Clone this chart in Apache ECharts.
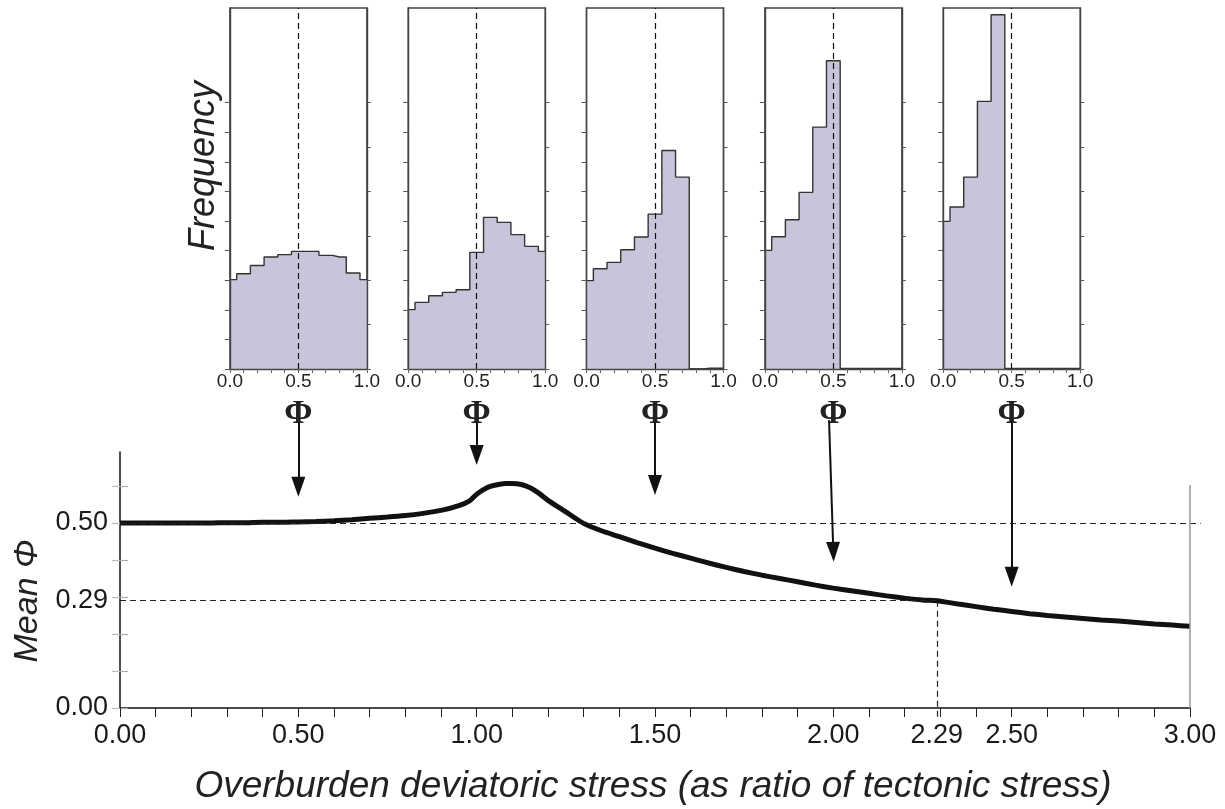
<!DOCTYPE html>
<html>
<head>
<meta charset="utf-8">
<script src="https://cdn.jsdelivr.net/npm/echarts@6/dist/echarts.min.js"></script>
<style>
  html, body { margin: 0; padding: 0; background: #ffffff; }
  #chart { width: 1225px; height: 809px; }
</style>
</head>
<body>
<div id="chart"></div>
<script>
// ---- Mean Φ against overburden deviatoric stress ----
const stress = [
  0.00, 0.05, 0.10, 0.15, 0.20, 0.25, 0.30, 0.35, 0.40, 0.45,
  0.50, 0.55, 0.60, 0.65, 0.70, 0.75, 0.80, 0.85, 0.90, 0.95,
  0.98, 1.00, 1.03, 1.05, 1.08, 1.10, 1.125, 1.15, 1.175, 1.20,
  1.25, 1.30, 1.35, 1.40, 1.45, 1.50, 1.55, 1.60, 1.65, 1.70,
  1.75, 1.80, 1.85, 1.90, 1.95, 2.00, 2.05, 2.10, 2.15, 2.20,
  2.25, 2.29, 2.35, 2.40, 2.45, 2.50, 2.55, 2.60, 2.65, 2.70,
  2.75, 2.80, 2.85, 2.90, 2.95, 3.00
];
const meanPhi = [
  0.500, 0.500, 0.500, 0.500, 0.500, 0.500, 0.501, 0.501, 0.502, 0.502,
  0.503, 0.504, 0.506, 0.509, 0.513, 0.516, 0.520, 0.526, 0.534, 0.547,
  0.560, 0.578, 0.596, 0.602, 0.607, 0.607, 0.604, 0.595, 0.580, 0.561,
  0.530, 0.499, 0.479, 0.463, 0.447, 0.432, 0.418, 0.405, 0.392, 0.380,
  0.369, 0.359, 0.350, 0.341, 0.332, 0.324, 0.317, 0.310, 0.303, 0.297,
  0.292, 0.290, 0.281, 0.274, 0.267, 0.261, 0.255, 0.250, 0.246, 0.242,
  0.238, 0.235, 0.231, 0.227, 0.224, 0.221
];
const stressTickLabels = [0.00, 0.50, 1.00, 1.50, 2.00, 2.29, 2.50, 3.00];
const meanPhiTickLabels = [0.00, 0.29, 0.50];
const meanPhiMinorTicks = [0.0, 0.1, 0.2, 0.3, 0.4, 0.5, 0.6];
const crossStress = 2.29;
const crossPhi = 0.29;
const neutralPhi = 0.50;

// ---- Φ frequency histograms at five stress ratios ----
const histStress = [0.5, 1.0, 1.5, 2.0, 2.5];
const phiBins = [0.0, 0.1, 0.2, 0.3, 0.4, 0.5, 0.6, 0.7, 0.8, 0.9, 1.0];
const freqAt050 = [6.04, 6.44, 7.00, 7.57, 7.73, 7.95, 7.95, 7.68, 7.57, 6.49, 6.04];
const freqAt100 = [4.01, 4.50, 4.95, 5.18, 5.36, 7.88, 10.25, 9.91, 9.08, 8.29, 7.95];
const freqAt150 = [5.97, 6.78, 7.21, 8.06, 8.92, 10.47, 14.77, 12.97, 0.00, 0.05, 0.05];
const freqAt200 = [8.02, 8.94, 10.09, 11.94, 16.35, 20.83, 0.04, 0.04, 0.04, 0.04, 0.04];
const freqAt250 = [9.98, 10.95, 12.97, 18.09, 23.94, 0.03, 0.03, 0.03, 0.03, 0.03, 0.03];
const histFreqs = [freqAt050, freqAt100, freqAt150, freqAt200, freqAt250];
const phiTickLabels = [0.0, 0.5, 1.0];
const freqTicksLeft = [0, 2, 4, 6, 8, 10, 12, 14, 16, 18];
const freqTicksRight = [0, 3, 6, 9, 12, 15, 18];

// ---- layout ----
const FONT = '"Liberation Sans", Arial, Helvetica, sans-serif';
const plotLeft = 120, plotRight = 1190, plotZeroY = 708;
const pxPerStress = (plotRight - plotLeft) / 3;
const pxPerPhi = 370;
const plotTop = 452;
const phiTop = (plotZeroY - plotTop) / pxPerPhi;
// overlay for arrows and reference lines, on the same scales as the plot
const overXMax = 3.05, overMin = -0.05, overMax = 0.9;
const arrowStart = 0.778;
const arrowTips = [0.571, 0.657, 0.576, 0.395, 0.328];
const arrowTopShift = [0, 0, 0, -0.012, 0];
const headLen = 20;

const histTop = 8, histHeight = 361, histWidth = 137;
const freqMax = 24.4;

const chart = echarts.init(document.getElementById('chart'), null, { renderer: 'canvas' });

const grids = [
  { left: plotLeft, width: plotRight - plotLeft, top: plotTop, height: plotZeroY - plotTop },
  { left: plotLeft, width: overXMax * pxPerStress,
    top: plotZeroY - overMax * pxPerPhi, height: (overMax - overMin) * pxPerPhi }
];
const xAxes = [
  {
    type: 'value', gridIndex: 0, min: 0, max: 3, interval: 0.1,
    axisLine: { show: true, onZero: false, lineStyle: { color: '#111', width: 1.5 } },
    axisTick: { show: true, length: 9, lineStyle: { color: '#222', width: 1 } },
    axisLabel: {
      customValues: stressTickLabels, formatter: v => v.toFixed(2),
      fontFamily: FONT, fontSize: 27, color: '#1a1a1a', margin: 14
    },
    splitLine: { show: false }
  },
  { type: 'value', gridIndex: 1, min: 0, max: overXMax, show: false }
];
const yAxes = [
  {
    type: 'value', gridIndex: 0, min: 0, max: phiTop, position: 'left',
    axisLine: { show: true, onZero: false, lineStyle: { color: '#111', width: 1.5 } },
    axisTick: { show: true, customValues: meanPhiMinorTicks, length: 8, lineStyle: { color: '#bbbbbb', width: 1.2 } },
    axisLabel: {
      customValues: meanPhiTickLabels, formatter: v => v.toFixed(2),
      fontFamily: FONT, fontSize: 27, color: '#1a1a1a', margin: 12
    },
    splitLine: { show: false }
  },
  {
    type: 'value', gridIndex: 0, min: 0, max: phiTop, position: 'right',
    axisLine: { show: false },
    axisTick: { show: true, customValues: meanPhiMinorTicks, length: 8, lineStyle: { color: '#aaaaaa', width: 1.2 } },
    axisLabel: { show: false },
    splitLine: { show: false }
  },
  { type: 'value', gridIndex: 1, min: overMin, max: overMax, show: false }
];

const series = [
  {
    name: 'Mean Φ', type: 'line', xAxisIndex: 0, yAxisIndex: 0,
    data: stress.map((s, i) => [s, meanPhi[i]]),
    symbol: 'none', smooth: 0.25,
    lineStyle: { color: '#111111', width: 5 },
    z: 4
  },
  {
    name: 'reference lines', type: 'line', xAxisIndex: 1, yAxisIndex: 2,
    data: [], symbol: 'none', clip: false,
    markLine: {
      silent: true, animation: false, symbol: ['none', 'none'],
      label: { show: false },
      lineStyle: { color: '#222', width: 1.2, type: [6, 4] },
      data: [
        [{ coord: [0, neutralPhi] }, { coord: [3.03, neutralPhi] }],
        [{ coord: [0, crossPhi] }, { coord: [crossStress, crossPhi] }],
        [{ coord: [crossStress, crossPhi] }, { coord: [crossStress, -0.03] }],
        [{ coord: [3, 0], lineStyle: { type: 'solid', color: '#999', width: 1.5 } },
         { coord: [3, 0.603] }]
      ]
    }
  },
  {
    name: 'sample arrows', type: 'line', xAxisIndex: 1, yAxisIndex: 2,
    data: [], symbol: 'none', clip: false, z: 6,
    markLine: {
      silent: true, animation: false, symbol: ['none', 'triangle'], symbolSize: [14, headLen],
      label: { show: false },
      lineStyle: { color: '#111', width: 2, type: 'solid' },
      data: histStress.map((s, i) => [
        { coord: [s + arrowTopShift[i], arrowStart] },
        { coord: [s, arrowTips[i] + (headLen / 2) / pxPerPhi] }
      ])
    }
  }
];

histStress.forEach((s, i) => {
  const center = plotLeft + s * pxPerStress;
  grids.push({
    left: center - histWidth / 2, width: histWidth, top: histTop, height: histHeight,
    show: true, borderColor: '#444', borderWidth: 1.4, backgroundColor: 'transparent'
  });
  const g = grids.length - 1;
  xAxes.push({
    type: 'value', gridIndex: g, min: 0, max: 1, interval: 0.1, z: 5,
    name: 'Φ', nameLocation: 'middle', nameGap: 28,
    nameTextStyle: { fontFamily: '"Liberation Serif", "Times New Roman", serif', fontWeight: 'bold', fontSize: 34, color: '#222' },
    axisLine: { show: true, onZero: false, lineStyle: { color: '#444', width: 1.4 } },
    axisTick: { show: true, length: 4, lineStyle: { color: '#666', width: 1 } },
    axisLabel: {
      customValues: phiTickLabels, formatter: v => v.toFixed(1),
      fontFamily: FONT, fontSize: 19, color: '#222', margin: 3
    },
    splitLine: { show: false }
  });
  yAxes.push({
    type: 'value', gridIndex: g, min: 0, max: freqMax, position: 'left', z: 5,
    axisLine: { show: true, onZero: false, lineStyle: { color: '#444', width: 1.4 } },
    axisTick: { show: true, customValues: freqTicksLeft, length: 5, lineStyle: { color: '#555', width: 1 } },
    axisLabel: { show: false }, splitLine: { show: false }
  });
  yAxes.push({
    type: 'value', gridIndex: g, min: 0, max: freqMax, position: 'right', z: 5,
    axisLine: { show: true, onZero: false, lineStyle: { color: '#444', width: 1.4 } },
    axisTick: { show: true, customValues: freqTicksRight, length: 4, lineStyle: { color: '#555', width: 1 } },
    axisLabel: { show: false }, splitLine: { show: false }
  });
  series.push({
    name: 'Φ at ' + s.toFixed(2), type: 'line',
    xAxisIndex: xAxes.length - 1, yAxisIndex: yAxes.length - 2,
    data: phiBins.map((p, j) => [p, histFreqs[i][j]]),
    step: 'middle', symbol: 'none',
    lineStyle: { color: '#333', width: 1.4 },
    areaStyle: { color: '#c8c4da', opacity: 1 },
    markLine: {
      silent: true, animation: false, symbol: ['none', 'none'],
      label: { show: false },
      lineStyle: { color: '#111', width: 1.2, type: [6, 4] },
      data: [{ xAxis: neutralPhi }]
    }
  });
});

chart.setOption({
  animation: false,
  backgroundColor: '#ffffff',
  grid: grids,
  xAxis: xAxes,
  yAxis: yAxes,
  series: series,
  graphic: [
    {
      type: 'text', x: 204, y: 166, rotation: Math.PI / 2,
      style: { text: 'Frequency', font: 'italic 36px ' + FONT, fill: '#222', align: 'center', verticalAlign: 'middle' }
    },
    {
      type: 'text', x: 28, y: 601, rotation: Math.PI / 2,
      style: { text: 'Mean Φ', font: 'italic 34px ' + FONT, fill: '#222', align: 'center', verticalAlign: 'middle' }
    },
    {
      type: 'text', x: 653, y: 787,
      style: { text: 'Overburden deviatoric stress (as ratio of tectonic stress)', font: 'italic 37px ' + FONT, fill: '#222', align: 'center', verticalAlign: 'middle' }
    }
  ]
});
</script>
</body>
</html>
